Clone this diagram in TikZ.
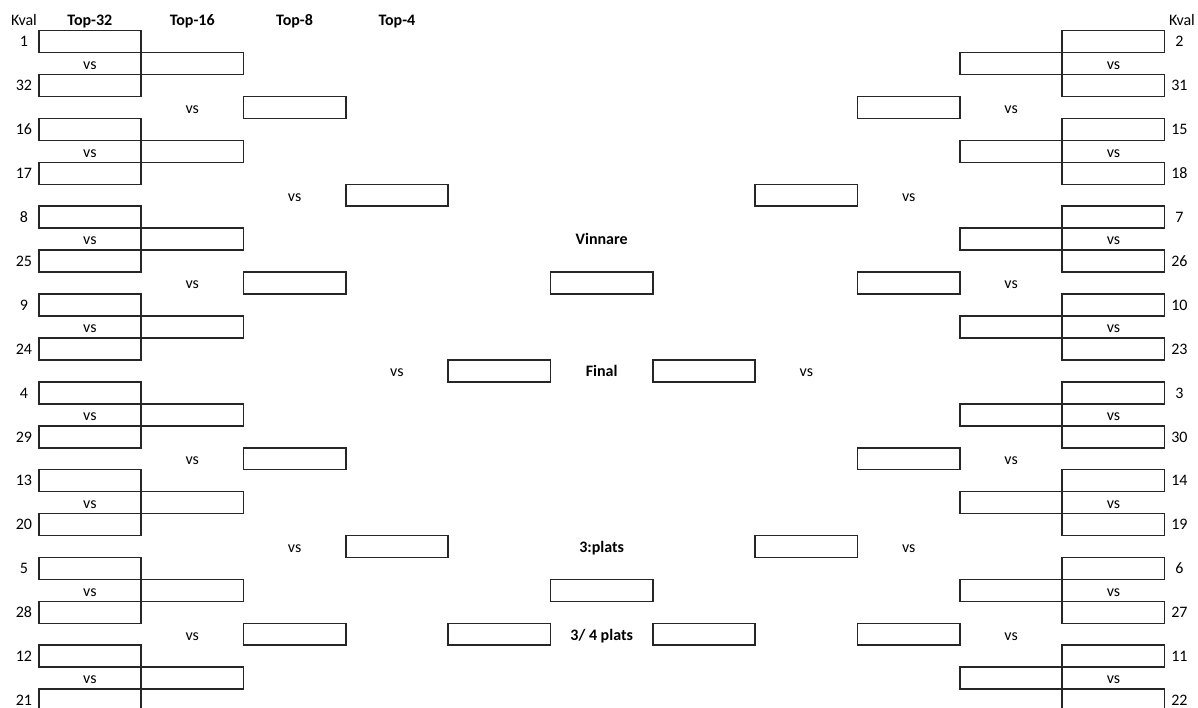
\documentclass[tikz,border=0pt]{standalone}
\usepackage{fontspec}
\setmainfont{Carlito}
\usetikzlibrary{positioning}
\tikzset{
  box/.style  = {draw=black!85, line width=1.2pt, rectangle, minimum width=76.77pt, minimum height=16.46pt, inner sep=0pt},
  txt/.style  = {anchor=base, inner sep=0pt},
  head/.style = {txt, font=\fontsize{12pt}{14pt}\selectfont\bfseries},
}

\begin{document}
\begin{tikzpicture}[x=76.77pt, y=-16.4625pt, every node/.style={font=\fontsize{12pt}{14pt}\selectfont, text=black}]
    \useasboundingbox (0.1219,-0.8986) rectangle (11.826,31.357);
    \clip (0.1219,-0.8986) rectangle (11.826,31.357);

    % headings
    \node (kvalL) [txt] at (0.356,0.26) {Kval};
    \node (kvalR) [txt] at (11.669,0.26) {Kval};
    \foreach \h [count=\c] in {Top-32,Top-16,Top-8,Top-4}
        \node (head\c) [head] at (\c,0.26) {\h};

    % left and right halves
    \foreach \s/\o/\side/\seeds in {1/0/L/{1,32,16,17,8,25,9,24,4,29,13,20,5,28,12,21},
                                  -1/12/R/{2,31,15,18,7,26,10,23,3,30,14,19,6,27,11,22}} {
        \foreach \q [count=\i, evaluate=\i as \r using int(2*\i-1)] in \seeds {
            \node (\side a\i) [box] at (\o+\s,\r) {};
            \node (\side k\i) [txt] at (\o+\s*0.356,\r+0.24) {\q};
        }
        \foreach \i [evaluate=\i as \r using int(4*\i-2)] in {1,...,8} {
            \node (\side b\i) [box] at (\o+2*\s,\r) {};
            \node (\side vb\i) [txt] at (\o+\s,\r+0.26) {vs};
        }
        \foreach \i [evaluate=\i as \r using int(8*\i-4)] in {1,...,4} {
            \node (\side c\i) [box] at (\o+3*\s,\r) {};
            \node (\side vc\i) [txt] at (\o+2*\s,\r+0.26) {vs};
        }
        \foreach \i [evaluate=\i as \r using int(16*\i-8)] in {1,2} {
            \node (\side d\i) [box] at (\o+4*\s,\r) {};
            \node (\side vd\i) [txt] at (\o+3*\s,\r+0.26) {vs};
        }
        \node (\side e) [box] at (\o+5*\s,16) {};
        \node (\side ve) [txt] at (\o+4*\s,16.26) {vs};
        \node (\side f) [box] at (\o+5*\s,28) {};
    }

    % middle column
    \node (vinnare) [head] at (6,10.26) {Vinnare};
    \node (winner)  [box]  at (6,12) {};
    \node (final)   [head] at (6,16.26) {Final};
    \node (third)   [head] at (6,24.26) {3:plats};
    \node (thirdbox)[box]  at (6,26) {};
    \node (bronze)  [head] at (6,28.26) {3/ 4 plats};
\end{tikzpicture}
\end{document}
